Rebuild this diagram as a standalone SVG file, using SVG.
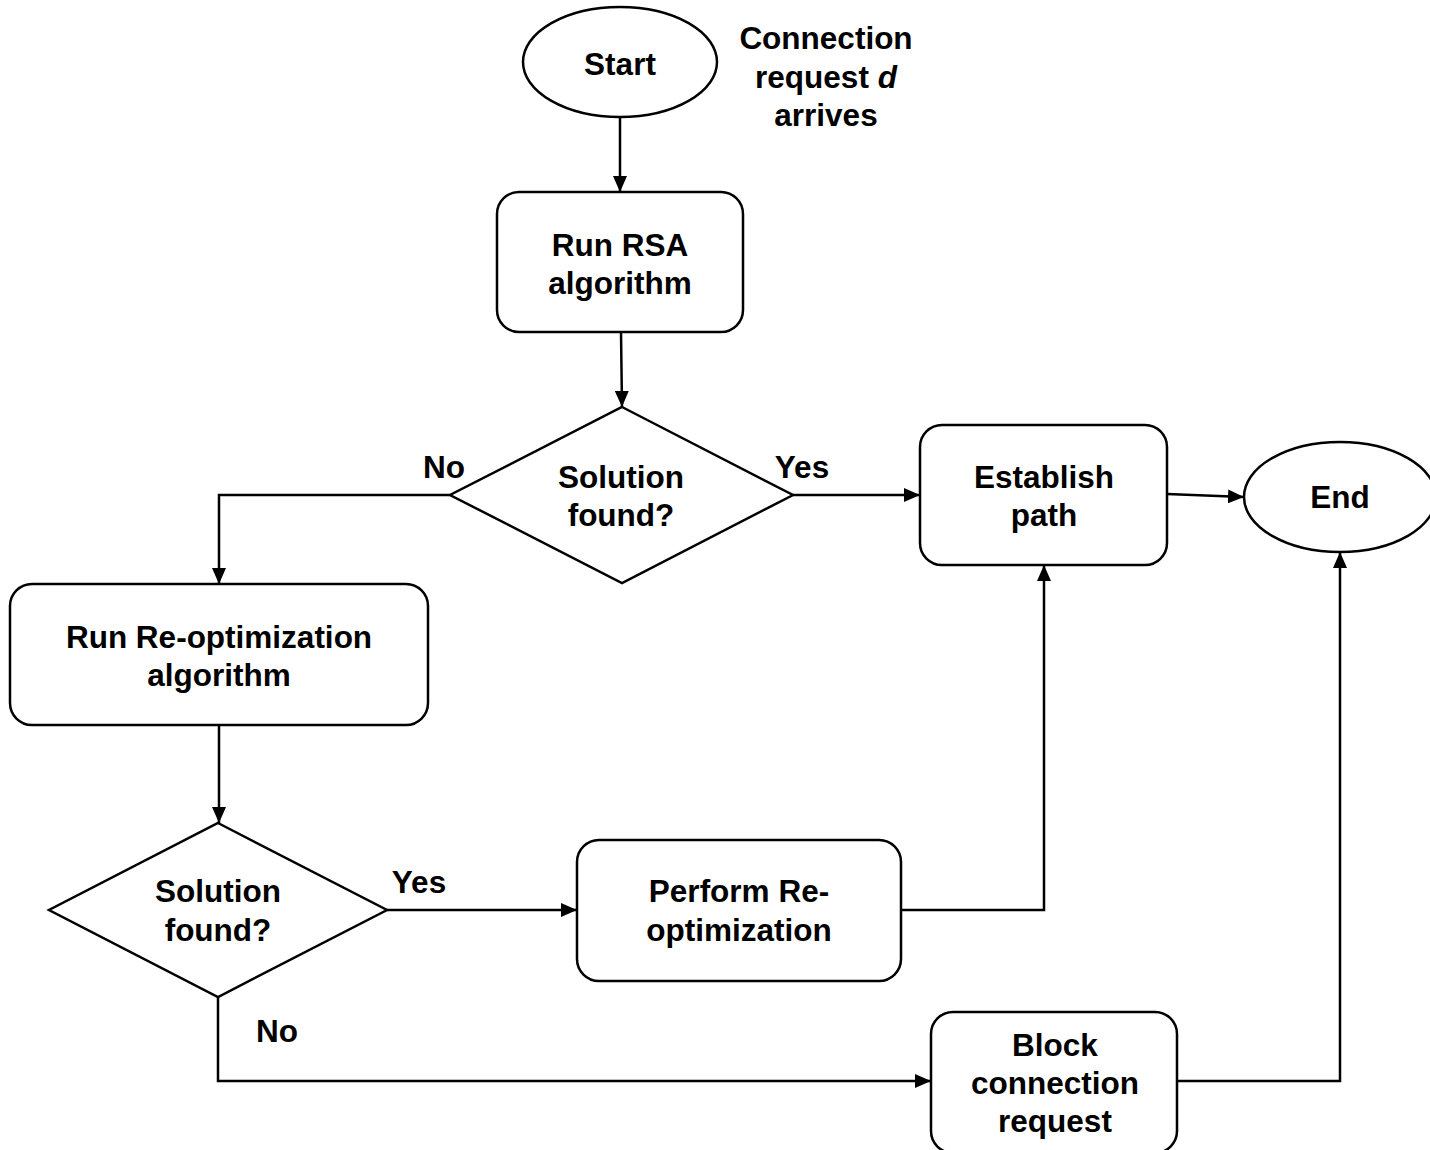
<svg xmlns="http://www.w3.org/2000/svg" width="1430" height="1150" viewBox="0 0 1430 1150">
<style>
.shape{fill:#fff;stroke:#000;stroke-width:2.5}
.conn{fill:none;stroke:#000;stroke-width:2.5}
text{font-family:"Liberation Sans",Arial,sans-serif;font-weight:bold;font-size:31.5px;fill:#000;text-anchor:middle}
</style>
<defs>
<marker id="arr" viewBox="0 0 16 14" refX="16" refY="7" markerWidth="16" markerHeight="14" markerUnits="userSpaceOnUse" orient="auto">
<path d="M0,0 L16,7 L0,14 Z" fill="#000"/>
</marker>
</defs>
<rect width="1430" height="1150" fill="#fff"/>
<g id="connectors">
<line class="conn" x1="620" y1="117" x2="620" y2="192" marker-end="url(#arr)"/>
<line class="conn" x1="621" y1="332" x2="622" y2="407" marker-end="url(#arr)"/>
<line class="conn" x1="793" y1="495" x2="920" y2="495" marker-end="url(#arr)"/>
<polyline class="conn" points="450,495 219,495 219,584" marker-end="url(#arr)"/>
<line class="conn" x1="1167" y1="494" x2="1244" y2="497" marker-end="url(#arr)"/>
<line class="conn" x1="219" y1="725" x2="219" y2="823" marker-end="url(#arr)"/>
<line class="conn" x1="387" y1="910" x2="577" y2="910" marker-end="url(#arr)"/>
<polyline class="conn" points="901,910 1044,910 1044,565" marker-end="url(#arr)"/>
<polyline class="conn" points="218,997 218,1081 931,1081" marker-end="url(#arr)"/>
<polyline class="conn" points="1177,1081 1340,1081 1340,552" marker-end="url(#arr)"/>
</g>
<g id="start">
<ellipse class="shape" cx="620" cy="62" rx="97" ry="55"/>
<text x="620" y="75">Start</text>
</g>
<g id="arrival-note">
<text x="826" y="49">Connection</text>
<text x="826" y="88">request <tspan font-style="italic">d</tspan></text>
<text x="826" y="126">arrives</text>
</g>
<g id="run-rsa">
<rect class="shape" x="497" y="192" width="246" height="140" rx="22"/>
<text x="620" y="256">Run RSA</text>
<text x="620" y="294">algorithm</text>
</g>
<g id="decision1">
<polygon class="shape" points="622,407 793,495 622,583 450,495"/>
<text x="621" y="488">Solution</text>
<text x="621" y="526">found?</text>
</g>
<g id="label-no1"><text x="444" y="478">No</text></g>
<g id="label-yes1"><text x="802" y="478">Yes</text></g>
<g id="establish">
<rect class="shape" x="920" y="425" width="247" height="140" rx="22"/>
<text x="1044" y="488">Establish</text>
<text x="1044" y="526">path</text>
</g>
<g id="end">
<ellipse class="shape" cx="1340" cy="497" rx="96" ry="55"/>
<text x="1340" y="508">End</text>
</g>
<g id="run-reopt">
<rect class="shape" x="10" y="584" width="418" height="141" rx="22"/>
<text x="219" y="648">Run Re-optimization</text>
<text x="219" y="686">algorithm</text>
</g>
<g id="decision2">
<polygon class="shape" points="218,823 387,910 218,997 49,910"/>
<text x="218" y="902">Solution</text>
<text x="218" y="941">found?</text>
</g>
<g id="label-yes2"><text x="419" y="893">Yes</text></g>
<g id="label-no2"><text x="277" y="1042">No</text></g>
<g id="perform">
<rect class="shape" x="577" y="840" width="324" height="141" rx="22"/>
<text x="739" y="902">Perform Re-</text>
<text x="739" y="941">optimization</text>
</g>
<g id="block">
<rect class="shape" x="931" y="1012" width="246" height="141" rx="22"/>
<text x="1055" y="1056">Block</text>
<text x="1055" y="1094">connection</text>
<text x="1055" y="1132">request</text>
</g>
</svg>
